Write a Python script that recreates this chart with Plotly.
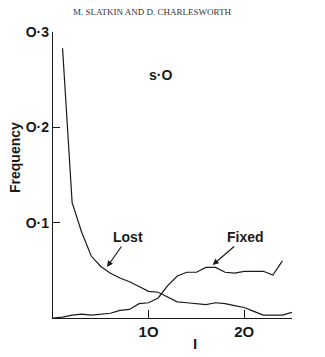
import plotly.graph_objects as go

# Data
lost_I = list(range(1, 26))
lost_freq = [0.283, 0.121, 0.090, 0.065, 0.054, 0.047, 0.042, 0.038, 0.033, 0.028,
             0.027, 0.022, 0.017, 0.016, 0.015, 0.014, 0.016, 0.015, 0.013, 0.011,
             0.007, 0.003, 0.003, 0.003, 0.006]

fixed_I = list(range(0, 25))
fixed_freq = [0.000, 0.001, 0.003, 0.004, 0.003, 0.004, 0.005, 0.008, 0.009, 0.015,
              0.016, 0.021, 0.034, 0.044, 0.048, 0.048, 0.053, 0.053, 0.048, 0.047,
              0.049, 0.049, 0.049, 0.045, 0.060]

y_tickvals = [0.1, 0.2, 0.3]
y_ticktext = ["O·1", "O·2", "O·3"]
x_tickvals = [10, 20]
x_ticktext = ["1O", "2O"]

ink = "#1a1a1a"
sans = "Liberation Sans"

fig = go.Figure()
fig.add_trace(go.Scatter(x=lost_I, y=lost_freq, mode="lines",
                         line=dict(color=ink, width=1.2), name="Lost"))
fig.add_trace(go.Scatter(x=fixed_I, y=fixed_freq, mode="lines",
                         line=dict(color=ink, width=1.2), name="Fixed"))

fig.update_layout(
    width=325, height=357,
    margin=dict(l=53, r=33, t=32, b=39),
    paper_bgcolor="white", plot_bgcolor="white",
    showlegend=False,
    font=dict(family=sans, color=ink),
)
fig.update_xaxes(range=[0, 25], showline=True, linecolor=ink, linewidth=1.3,
                 showgrid=False, zeroline=False, ticks="inside", ticklen=8,
                 tickwidth=1.3, tickcolor=ink, tickvals=x_tickvals,
                 ticktext=["<b>%s</b>" % t for t in x_ticktext],
                 tickfont=dict(family=sans, size=15, color=ink))
fig.update_yaxes(range=[0, 0.3], showline=True, linecolor=ink, linewidth=1.3,
                 showgrid=False, zeroline=False, ticks="inside", ticklen=7,
                 tickwidth=1.3, tickcolor=ink, tickvals=y_tickvals,
                 ticktext=["<b>%s</b>" % t for t in y_ticktext],
                 tickfont=dict(family=sans, size=14, color=ink))

anns = [
    dict(text="M. SLATKIN AND D. CHARLESWORTH", xref="paper", yref="paper",
         x=0.414, y=1.07, showarrow=False, xanchor="center", yanchor="middle",
         font=dict(family="Liberation Serif", size=9, color="#333")),
    dict(text="<b>s·O</b>", xref="x", yref="y", x=11.2, y=0.255, showarrow=False,
         xanchor="center", yanchor="middle", font=dict(size=14, color=ink)),
    dict(text="<b>Frequency</b>", xref="paper", yref="paper", x=-0.159, y=0.563,
         textangle=-90, showarrow=False, xanchor="center", yanchor="middle",
         font=dict(size=14, color=ink)),
    dict(text="<b>I</b>", xref="x", yref="paper", x=14.85, y=-0.09, showarrow=False,
         xanchor="center", yanchor="middle", font=dict(size=15, color=ink)),
    dict(text="<b>Lost</b>", xref="x", yref="y", x=5.65, y=0.0535,
         axref="x", ayref="y", ax=7.85, ay=0.085, showarrow=True,
         arrowhead=2, arrowsize=1, arrowwidth=1.2, arrowcolor=ink,
         font=dict(size=14, color=ink)),
    dict(text="<b>Fixed</b>", xref="x", yref="y", x=16.7, y=0.0556,
         axref="x", ayref="y", ax=20.1, ay=0.085, showarrow=True,
         arrowhead=2, arrowsize=1, arrowwidth=1.2, arrowcolor=ink,
         font=dict(size=14, color=ink)),
]
fig.update_layout(annotations=anns)

fig.write_html("out.html")
